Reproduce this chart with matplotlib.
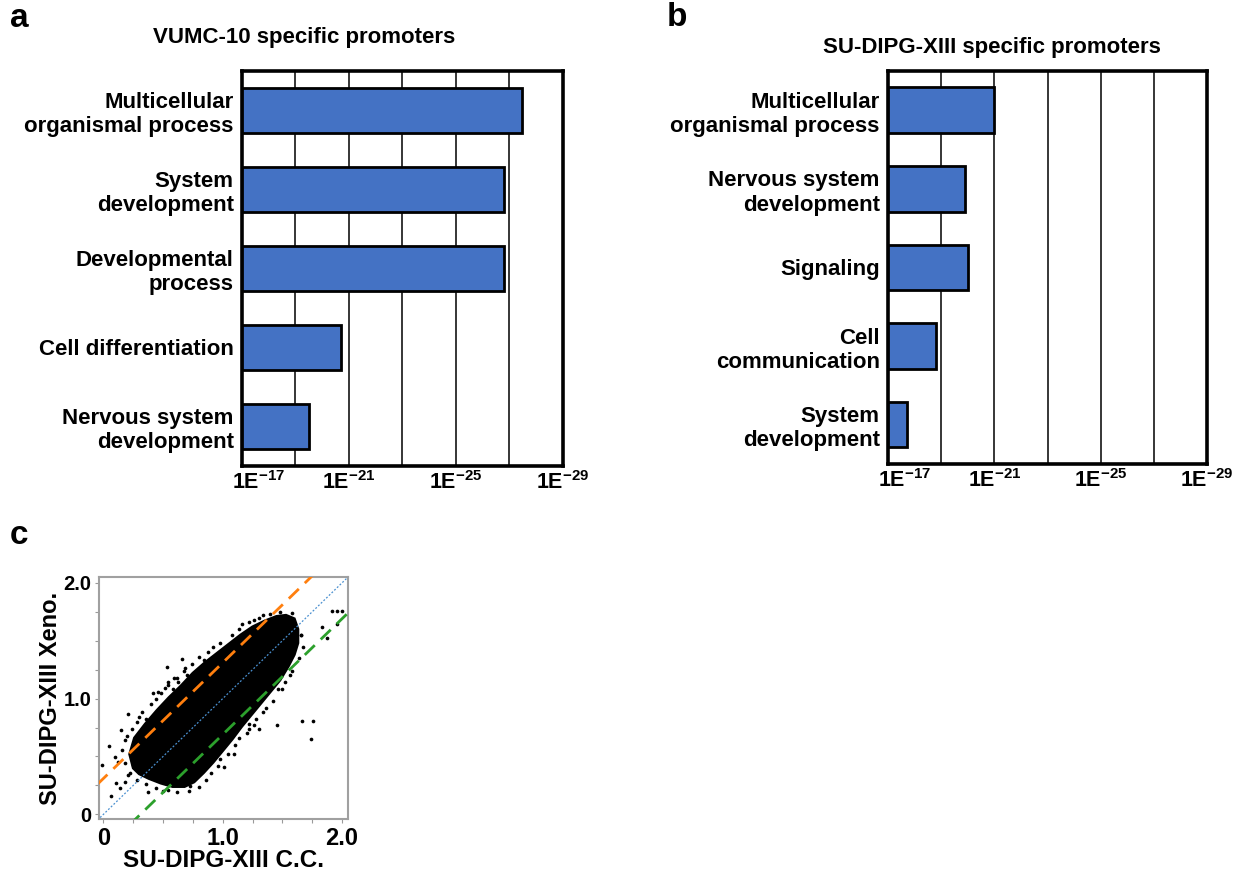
import numpy as np
import matplotlib
matplotlib.use('Agg')
import matplotlib.pyplot as plt
import matplotlib.transforms as mtransforms
from matplotlib.ticker import MultipleLocator, FixedLocator

plt.rcParams['font.family'] = ['Liberation Sans', 'DejaVu Sans']
plt.rcParams['font.weight'] = 'bold'
plt.rcParams['mathtext.fontset'] = 'custom'
plt.rcParams['mathtext.rm'] = 'Liberation Sans:bold'
plt.rcParams['mathtext.bf'] = 'Liberation Sans:bold'
plt.rcParams['mathtext.default'] = 'rm'

### Panel a/b data: -log10(p) of GO terms
a_terms = ['Multicellular\norganismal process', 'System\ndevelopment', 'Developmental\nprocess',
           'Cell differentiation', 'Nervous system\ndevelopment']
a_logp = [27.45, 26.8, 26.8, 20.7, 19.5]
b_terms = ['Multicellular\norganismal process', 'Nervous system\ndevelopment', 'Signaling',
           'Cell\ncommunication', 'System\ndevelopment']
b_logp = [21.0, 19.9, 20.0, 18.8, 17.7]
xtick_vals = [17, 21, 25, 29]
xgrid_minor = [19, 23, 27]
xtick_labels = [r'1E$^{-%d}$' % v for v in xtick_vals]

### Panel c data: dense core outline of the scatter cloud (x, y)
core_x = [0.25, 0.22, 0.26, 0.35, 0.45, 0.55, 0.65, 0.75, 0.85, 0.95, 1.05, 1.15, 1.25, 1.35,
          1.45, 1.53, 1.60, 1.63, 1.63, 1.60, 1.55, 1.48, 1.40, 1.32, 1.24, 1.16, 1.08, 1.00,
          0.92, 0.84, 0.76, 0.68, 0.58, 0.48, 0.38, 0.30]
core_y = [0.40, 0.52, 0.66, 0.78, 0.90, 1.01, 1.11, 1.22, 1.31, 1.39, 1.47, 1.55, 1.62, 1.67,
          1.71, 1.72, 1.69, 1.60, 1.48, 1.38, 1.28, 1.16, 1.06, 0.96, 0.86, 0.76, 0.65, 0.55,
          0.45, 0.36, 0.28, 0.24, 0.24, 0.27, 0.31, 0.35]
# individual points at the fringe of the cloud and outliers
pts_x = [0.655, 0.53, 0.59, 0.543, 0.459, 0.417, 0.677, 0.627, 0.515,
         -0.012, 0.045, 0.061, 0.145, 0.207, 0.095, 0.109, 0.137, 0.179, 0.207, 0.249, 0.37, 0.408,
         0.725, 0.571, 0.263, 0.179, 0.319,
         1.162, 1.521, 1.582, 1.918, 1.96, 2.003, 1.96, 1.834, 1.876, 1.092, 1.12, 1.05, 1.414, 1.652,
         1.456, 1.666, 1.756, 1.742, 1.308, 1.266, 1.097, 1.218, 1.339, 1.008,
         0.12, 0.16, 0.20, 0.28, 0.32, 0.40, 0.44, 0.48, 0.54, 0.62, 0.68, 0.74, 0.80, 0.88, 0.92,
         0.98, 1.08, 1.14, 1.22, 1.30, 1.40, 1.48, 1.58,
         1.66, 1.67, 1.64, 1.58, 1.52, 1.46, 1.42, 1.36, 1.28, 1.22, 1.14, 1.10, 1.04, 0.96, 0.90,
         0.86, 0.80, 0.72, 0.62, 0.54, 0.44, 0.36, 0.28, 0.22, 0.18,
         0.24, 0.30, 0.36, 0.58, 0.70, 0.84, 1.26, 1.34, 1.50, 1.56, 1.20, 0.98, 0.50]
pts_y = [1.342, 1.27, 1.176, 1.14, 1.06, 1.047, 1.239, 1.147, 1.09,
         0.426, 0.592, 0.161, 0.733, 0.871, 0.497, 0.267, 0.224, 0.282, 0.34, 0.426, 0.19, 0.325,
         0.245, 0.282, 0.555, 0.641, 0.67,
         1.644, 1.698, 1.664, 1.756, 1.756, 1.756, 1.641, 1.62, 1.52, 1.491, 1.50, 1.448, 1.678, 1.549,
         0.771, 0.805, 0.808, 0.655, 0.741, 0.771, 0.521, 0.784, 0.885, 0.411,
         0.45, 0.56, 0.68, 0.80, 0.88, 0.95, 1.00, 1.05, 1.12, 1.18, 1.26, 1.30, 1.36, 1.40, 1.45,
         1.48, 1.55, 1.60, 1.66, 1.70, 1.73, 1.75, 1.74,
         1.55, 1.45, 1.35, 1.24, 1.14, 1.08, 0.98, 0.92, 0.82, 0.74, 0.66, 0.60, 0.52, 0.42, 0.36,
         0.30, 0.24, 0.20, 0.19, 0.21, 0.23, 0.26, 0.30, 0.36, 0.44,
         0.74, 0.84, 0.82, 1.08, 1.20, 1.33, 1.68, 1.72, 1.08, 1.20, 0.70, 0.48, 0.20]
# reference lines: y = x + offset
line_offsets = [0.31, 0.0, -0.31]
line_colors = ['#ff7f0e', '#4a90d0', '#2ca02c']
line_styles = [(0, (5, 3)), (0, (1.5, 1.5)), (0, (5, 3))]
line_widths = [2.0, 0.9, 2.0]
c_ticklabels = {0.0: '0', 1.0: '1.0', 2.0: '2.0'}


def bar_panel(ax, terms, vals):
    y = np.arange(len(terms))
    left = xtick_vals[0]
    ax.barh(y, np.array(vals) - left, left=left, height=0.58, color='#4472C4',
            edgecolor='k', lw=2.0, zorder=3)
    ax.set_xlim(17, 29)
    ax.set_ylim(len(terms) - 0.5, -0.5)
    ax.xaxis.set_major_locator(FixedLocator(xtick_vals))
    ax.set_xticklabels(xtick_labels, fontsize=15.5, fontweight='bold')
    ax.xaxis.set_minor_locator(FixedLocator(xgrid_minor))
    ax.set_yticks(y)
    ax.set_yticklabels(terms, fontsize=16, fontweight='bold')
    ax.tick_params(axis='both', which='both', length=0)
    ax.tick_params(axis='y', pad=6)
    ax.tick_params(axis='x', pad=4)
    ax.grid(axis='x', which='both', color='k', lw=1.1, zorder=0)
    ax.set_axisbelow(True)
    for sp in ax.spines.values():
        sp.set_linewidth(2.6)
        sp.set_color('k')
    # first tick label sits a little to the right of its tick
    first = ax.get_xticklabels()[0]
    first.set_transform(first.get_transform() +
                        mtransforms.ScaledTranslation(12 / 72, 0, ax.figure.dpi_scale_trans))


fig = plt.figure(figsize=(12.39, 8.71), dpi=100)

ax1 = fig.add_axes([0.1953, 0.465, 0.2591, 0.4535])
bar_panel(ax1, a_terms, a_logp)
ax2 = fig.add_axes([0.7167, 0.4673, 0.2575, 0.4512])
bar_panel(ax2, b_terms, b_logp)

fig.text(0.2454, 0.9575, 'VUMC-10 specific promoters', ha='center', va='center',
         fontsize=16, fontweight='bold')
fig.text(0.8006, 0.946, 'SU-DIPG-XIII specific promoters', ha='center', va='center',
         fontsize=16, fontweight='bold')

### Scatter panel
ax3 = fig.add_axes([0.0796, 0.0597, 0.2013, 0.2778])
ax3.fill(core_x, core_y, color='k', lw=2, edgecolor='k', zorder=2)
ax3.scatter(pts_x, pts_y, s=7, c='k', lw=0, zorder=2)
xx = np.array([-0.05, 2.06])
for off, c, ls, lw in zip(line_offsets, line_colors, line_styles, line_widths):
    ax3.plot(xx, xx + off, color=c, ls=ls, lw=lw, zorder=4)
cticks = np.arange(0, 2.01, 0.25)
ax3.set_xticks(cticks)
ax3.set_yticks(cticks)
ax3.set_xticklabels([c_ticklabels.get(round(t, 2), '') for t in cticks])
ax3.set_yticklabels([c_ticklabels.get(round(t, 2), '') for t in cticks])
ax3.set_xlim(-0.04, 2.05)
ax3.set_ylim(-0.04, 2.05)
ax3.tick_params(axis='both', length=3, width=0.8, color='#9a9a9a')
ax3.tick_params(axis='x', labelsize=17, pad=3)
ax3.tick_params(axis='y', labelsize=14.5, pad=2)
ax3.set_xlabel('SU-DIPG-XIII C.C.', fontsize=17.5, fontweight='bold', labelpad=-1)
ax3.set_ylabel('SU-DIPG-XIII Xeno.', fontsize=17, fontweight='bold', labelpad=1)
for sp in ax3.spines.values():
    sp.set_color('#a0a0a0')
    sp.set_linewidth(1.5)

### Panel letters
fig.text(0.008, 0.979, 'a', fontsize=24, fontweight='bold', va='center')
fig.text(0.538, 0.980, 'b', fontsize=24, fontweight='bold', va='center')
fig.text(0.008, 0.385, 'c', fontsize=24, fontweight='bold', va='center')

fig.savefig('out.png', dpi=100)
